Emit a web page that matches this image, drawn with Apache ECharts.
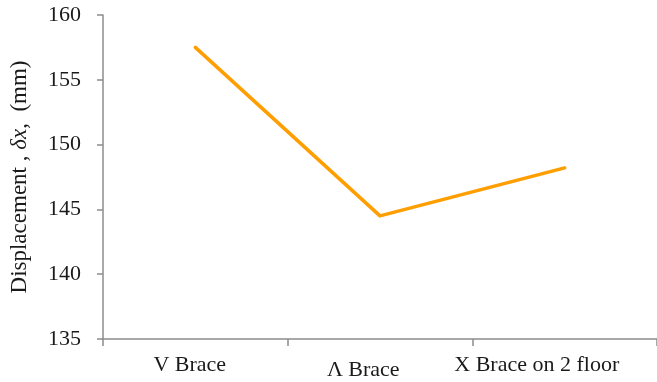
<!DOCTYPE html>
<html>
<head>
<meta charset="utf-8">
<script src="https://cdn.jsdelivr.net/npm/echarts@6/dist/echarts.min.js"></script>
<style>html,body{margin:0;padding:0;background:#fff}#c{width:657px;height:382px}</style>
</head>
<body>
<div id="c"></div>
<script>
const categories = ['V Brace', 'Λ Brace', 'X Brace on 2 floor'];
const displacement = [157.5, 144.5, 148.2];
const yTicks = { min: 135, max: 160, interval: 5 };

const chart = echarts.init(document.getElementById('c'), null, { renderer: 'canvas' });
const font = '"Liberation Serif", "Times New Roman", serif';
const txt = '#1a1a1a';
chart.setOption({
  animation: false,
  backgroundColor: '#ffffff',
  grid: [
    { left: 103, right: -1.5, top: 15, bottom: 43, containLabel: false },
    { left: 103, right: 33.5, top: 15, bottom: 43, containLabel: false }
  ],
  xAxis: [{
    type: 'category',
    gridIndex: 0,
    data: categories,
    boundaryGap: true,
    axisLine: { lineStyle: { color: '#8c8c8c', width: 1.5 } },
    axisTick: { show: true, length: 7, lineStyle: { color: '#8c8c8c', width: 1.5 } },
    axisLabel: { show: false }
  }, {
    type: 'category',
    gridIndex: 1,
    data: categories,
    boundaryGap: true,
    axisLine: { show: false },
    axisTick: { show: false },
    axisLabel: {
      interval: 0,
      hideOverlap: false,
      margin: 15,
      color: txt,
      fontFamily: font,
      fontSize: 22,
      formatter: function (v, i) { return i === 1 ? '{l|' + v + '}' : v; },
      rich: { l: { fontFamily: font, fontSize: 22, color: txt, padding: [5, 0, 0, 0] } }
    }
  }],
  yAxis: [{
    type: 'value',
    gridIndex: 0,
    min: yTicks.min,
    max: yTicks.max,
    interval: yTicks.interval,
    name: 'Displacement , {i|δx},  (mm)',
    nameLocation: 'middle',
    nameGap: 72,
    nameTextStyle: {
      color: txt,
      fontFamily: font,
      fontSize: 23,
      rich: { i: { fontFamily: font, fontSize: 23, fontStyle: 'italic', color: txt } }
    },
    axisLine: { show: true, lineStyle: { color: '#8c8c8c', width: 1.5 } },
    axisTick: { show: true, length: 6, lineStyle: { color: '#8c8c8c', width: 1.5 } },
    splitLine: { show: false },
    axisLabel: { margin: 22, color: txt, fontFamily: font, fontSize: 22 }
  }, {
    type: 'value',
    gridIndex: 1,
    min: yTicks.min,
    max: yTicks.max,
    show: false
  }],
  series: [{
    type: 'line',
    xAxisIndex: 0,
    yAxisIndex: 0,
    data: displacement,
    symbol: 'none',
    lineStyle: { color: '#FF9E00', width: 3.5, cap: 'round', join: 'round' }
  }]
});
</script>
</body>
</html>
